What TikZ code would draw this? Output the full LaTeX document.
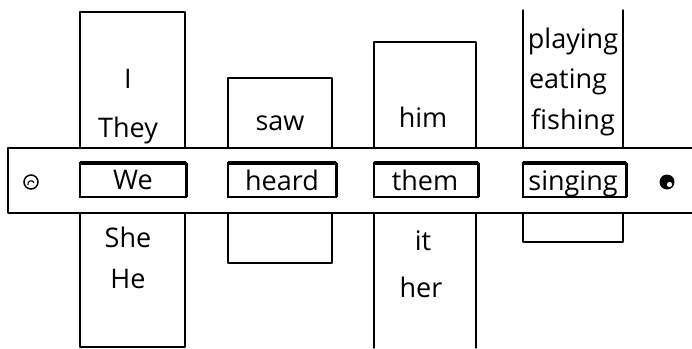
\documentclass[tikz,border=0pt]{standalone}
\usepackage{fontspec}
\setmainfont{Open Sans}
\begin{document}
\begin{tikzpicture}[x=1pt,y=-1pt,
  line/.style={line width=1.4pt,line cap=round,line join=round},
  word/.style={font=\fontsize{27}{30}\selectfont,inner sep=0pt,anchor=base},
  win/.style={line width=1.8pt},
  wintop/.style={line width=3.4pt}]
\useasboundingbox (0,0) rectangle (692,348);
% strips
\draw[line] (80,12) rectangle (185,347);
\draw[line] (228,78) rectangle (332,263);
\draw[line] (374,348) -- (374,42) -- (476,42) -- (476,348);
\draw[line] (523,10) -- (523,242) -- (623,242) -- (623,10);
% band
\fill[white] (8,148) rectangle (700,213);
\draw[line] (700,148) -- (8,148) -- (8,213);
\draw[line width=2.8pt] (8,213) -- (700,213);
% windows
\foreach \l/\r in {80/186,228/336,374/478,523/626}{
  \draw[win] (\l,163) rectangle (\r,197);
  \draw[wintop] (\l,163) -- (\r,163);
  \draw[line width=3pt] (\r,163) -- (\r,197);
}
% screws
\draw[line width=1.5pt] (31,182) circle [radius=7pt];
\draw[line width=1.1pt] (28,185) arc [start angle=200,end angle=20,radius=3.2pt];
\fill (667,182) circle [radius=7.5pt];
\fill[white] (669.5,184.5) circle [radius=2.6pt];
% words
\node[word] (i) at (128,88) {I};
\node[word] (they) at (128,137) {They};
\node[word] (we) at (133,189) {We};
\node[word] (she) at (128,247) {She};
\node[word] (he) at (128,288) {He};
\node[word] (saw) at (280,130) {saw};
\node[word] (heard) at (282,190) {heard};
\node[word] (him) at (423,127) {him};
\node[word] (them) at (425,190) {them};
\node[word] (it) at (423,250) {it};
\node[word] (her) at (421,297) {her};
\node[word] (playing) at (573,48) {playing};
\node[word] (eating) at (568,88) {eating};
\node[word] (fishing) at (573,129) {fishing};
\node[word] (singing) at (573,190) {singing};
\end{tikzpicture}
\end{document}
